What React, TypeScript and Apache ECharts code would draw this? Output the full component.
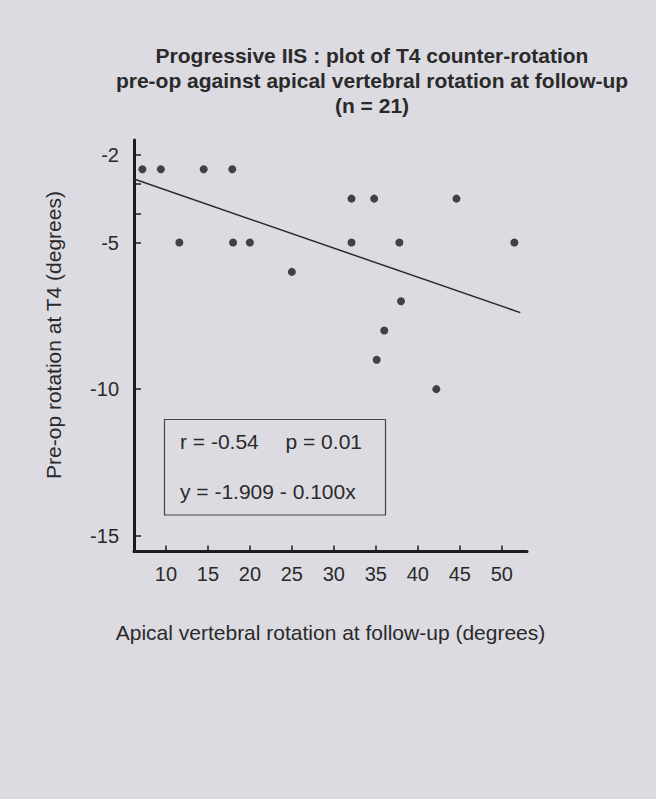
import React, { useEffect, useRef } from "react";
import * as echarts from "echarts";

// ---- data ----
const xValues = [7.2, 9.4, 14.5, 17.9, 11.6, 18.0, 20.0, 25.0, 32.1, 34.8, 44.6, 32.1, 37.8, 51.5, 38.0, 36.0, 35.1, 42.2];
const yValues = [-2.5, -2.5, -2.5, -2.5, -5, -5, -5, -6, -3.5, -3.5, -3.5, -5, -5, -5, -7, -8, -9, -10];
const fitX = [6.2, 52.2];
const fitY = [-2.83, -7.39];
const xTickValues = [10, 15, 20, 25, 30, 35, 40, 45, 50];
const yLabelValues = [-2, -5, -10, -15];
const yTickValues = [-2, -3, -4, -5, -10, -15];
const titleLines = [
  "Progressive IIS : plot of T4 counter-rotation",
  "pre-op against apical vertebral rotation at follow-up",
  "(n = 21)",
];
const statsLeft = "r = -0.54";
const statsRight = "p = 0.01";
const equationText = "y = -1.909 - 0.100x";
const xAxisName = "Apical vertebral rotation at follow-up (degrees)";
const yAxisName = "Pre-op rotation at T4 (degrees)";

const FONT = "'Liberation Sans', Arial, Helvetica, sans-serif";
const INK = "#2a2a2a";
const BG = "#dcdbe2";

export default function App() {
  const ref = useRef<HTMLDivElement>(null);

  useEffect(() => {
    if (!ref.current) return;
    const chart = echarts.init(ref.current, null, { renderer: "svg" });
    const option: any = {
      animation: false,
      backgroundColor: BG,
      textStyle: { fontFamily: FONT },
      grid: { left: 134, right: 129, top: 140, bottom: 247.5, containLabel: false },
      xAxis: {
        type: "value",
        min: 6.2,
        max: 53.0,
        name: xAxisName,
        nameLocation: "middle",
        nameGap: 70,
        nameTextStyle: { fontFamily: FONT, fontSize: 21, color: INK },
        axisLine: { show: true, onZero: false, lineStyle: { color: "#1c1c1c", width: 3 } },
        axisTick: {
          show: true,
          inside: true,
          length: 6,
          customValues: xTickValues,
          lineStyle: { color: "#1c1c1c", width: 1.5 },
        },
        axisLabel: {
          customValues: xTickValues,
          margin: 12,
          fontFamily: FONT,
          fontSize: 20,
          color: INK,
        },
        splitLine: { show: false },
      },
      yAxis: {
        type: "value",
        min: -15.54,
        max: -1.5,
        axisLine: { show: true, onZero: false, lineStyle: { color: "#1c1c1c", width: 3 } },
        axisTick: {
          show: true,
          inside: true,
          length: 7,
          customValues: yTickValues,
          lineStyle: { color: "#1c1c1c", width: 1.5 },
        },
        axisLabel: {
          customValues: yLabelValues,
          margin: 15,
          fontFamily: FONT,
          fontSize: 20,
          color: INK,
        },
        splitLine: { show: false },
      },
      series: [
        {
          type: "scatter",
          data: xValues.map((x, i) => [x, yValues[i]]),
          symbol: "circle",
          symbolSize: 8,
          itemStyle: { color: "#1a1a1a" },
          silent: true,
        },
        {
          type: "line",
          data: fitX.map((x, i) => [x, fitY[i]]),
          showSymbol: false,
          symbol: "none",
          lineStyle: { color: "#2a2a2a", width: 1.5 },
          silent: true,
        },
      ],
      graphic: [
        ...titleLines.map((t, i) => ({
          type: "text",
          x: 372,
          y: 55.5 + i * 25,
          style: {
            text: t,
            fontFamily: FONT,
            fontSize: 21,
            fontWeight: "bold",
            fill: INK,
            align: "center",
            verticalAlign: "middle",
          },
        })),
        {
          type: "text",
          x: 53,
          y: 335,
          rotation: Math.PI / 2,
          style: {
            text: yAxisName,
            fontFamily: FONT,
            fontSize: 21,
            fill: INK,
            align: "center",
            verticalAlign: "middle",
          },
        },
        {
          type: "rect",
          shape: { x: 164.5, y: 419.5, width: 221, height: 95.5 },
          style: { fill: "none", stroke: "#444", lineWidth: 1.2 },
        },
        {
          type: "text",
          x: 180,
          y: 441,
          style: { text: statsLeft, fontFamily: FONT, fontSize: 21, fill: INK, align: "left", verticalAlign: "middle" },
        },
        {
          type: "text",
          x: 285.5,
          y: 441,
          style: { text: statsRight, fontFamily: FONT, fontSize: 21, fill: INK, align: "left", verticalAlign: "middle" },
        },
        {
          type: "text",
          x: 180,
          y: 491,
          style: { text: equationText, fontFamily: FONT, fontSize: 21, fill: INK, align: "left", verticalAlign: "middle" },
        },
      ],
    };
    chart.setOption(option);
    return () => chart.dispose();
  }, []);

  return (
    <div
      ref={ref}
      style={{ position: "absolute", left: 0, top: 0, width: 656, height: 799, background: BG }}
    />
  );
}
